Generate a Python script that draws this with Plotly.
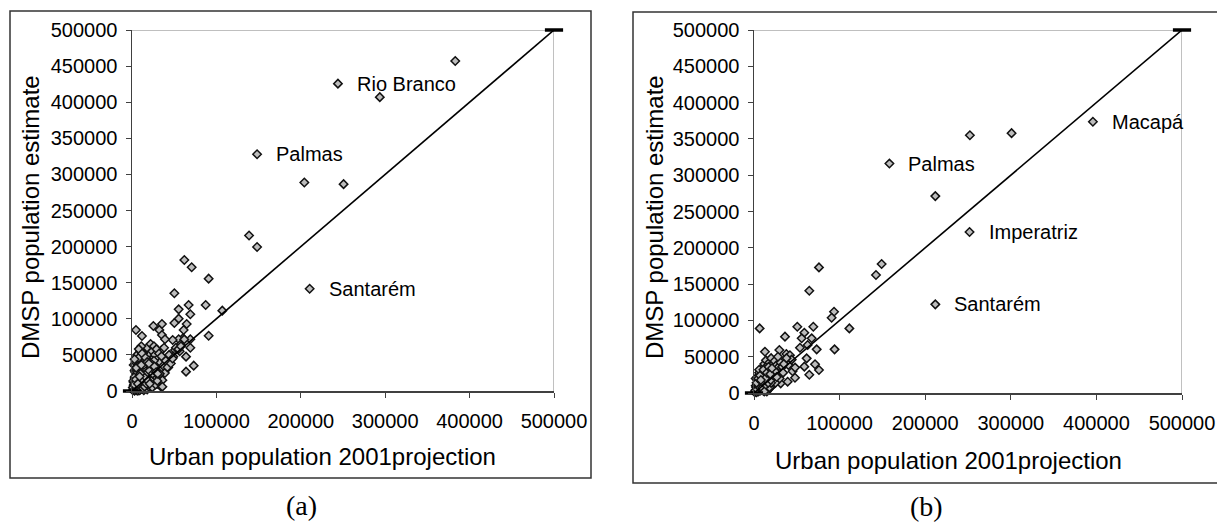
import plotly.graph_objects as go

# ---------------- data (values) ----------------
# Panel (a): Urban population 2001 projection (x) vs DMSP estimate (y)
a_x = [383000, 244000, 293600, 148200, 204200, 250700, 138700, 148200, 210500,
       62000, 70700, 90800, 50200, 107000, 55300, 67100, 87300, 69100, 55300, 50200,
       64800, 61200, 90800, 60400, 69100, 55300, 48200, 69100, 64000, 73100, 64000,
       4700, 11800, 25300, 35500, 32400, 35500, 39100, 50900, 49000, 41100, 34400,
       45000, 35100, 42900, 56500, 61900, 57400,
       1000, 2000, 3000, 2000, 4000, 5000, 3000, 6000, 4000, 5000, 7000, 8000, 8000,
       9000, 10000, 10000, 11000, 12000, 12000, 13000, 13000, 14000, 14000, 15000,
       15000, 16000, 16000, 17000, 17000, 18000, 18000, 19000, 19000, 20000, 20000,
       21000, 21000, 22000, 22000, 23000, 23000, 24000, 25000, 25000, 26000, 26000,
       27000, 27000, 28000, 29000, 29000, 30000, 30000, 31000, 32000, 32000, 33000,
       34000, 35000, 36000, 37000, 38000, 39000, 40000, 42000, 44000, 46000, 48000,
       52000, 55000, 58000, 9000, 7000, 5000, 6000, 10000, 3000, 11000, 8000, 2000,
       1000, 4000, 6000, 12000, 14000, 16000, 3000, 5000, 7000, 9000, 18000, 20000,
       24000, 28000, 13000, 15000, 17000, 19000, 21000, 23000, 11000, 6000, 8000,
       10000, 4000, 2000, 26000, 30000, 33000, 36000,
       1500, 2500, 3500, 4500, 5500, 6500, 7500, 8500, 9500, 10500, 11500, 12500,
       13500, 14500, 15500, 16500, 17500, 18500, 19500, 20500, 22500, 24500, 26500,
       28500, 30500, 4000, 6000, 8000, 10000, 12000, 14000, 16000, 18000, 20000,
       3000, 5000, 7000, 9000, 11000, 13000, 15000, 17000, 19000, 21000, 23000]
a_y = [457000, 425700, 407000, 328000, 288800, 286500, 215400, 199500, 141600,
       181400, 171300, 155600, 135300, 111300, 113100, 119100, 119100, 106200, 100200, 94200,
       92800, 84500, 76600, 72900, 71600, 71600, 70600, 60000, 47600, 35100, 26800,
       84500, 76200, 90000, 92800, 84500, 77600, 71600, 56800, 47600, 35500, 6000,
       42900, 56800, 32700, 55100, 71500, 64500,
       1000, 3000, 2000, 8000, 12000, 5000, 18000, 25000, 30000, 22000, 10000, 4000, 15000,
       20000, 2000, 30000, 12000, 40000, 6000, 25000, 48000, 18000, 35000, 8000,
       55000, 28000, 45000, 12000, 38000, 22000, 60000, 5000, 32000, 15000, 50000,
       28000, 42000, 8000, 65000, 35000, 20000, 55000, 12000, 45000, 30000, 62000,
       18000, 50000, 38000, 25000, 58000, 10000, 44000, 32000, 20000, 52000, 40000,
       28000, 48000, 15000, 35000, 60000, 25000, 42000, 33000, 50000, 38000, 45000,
       60000, 58000, 62000, 40000, 45000, 35000, 50000, 55000, 28000, 62000, 58000, 12000,
       5000, 7000, 2000, 3000, 1000, 4000, 500, 1000, 500, 1000, 2000, 6000,
       5000, 9000, 52000, 20000, 30000, 10000, 24000, 14000, 18000, 8000, 16000,
       22000, 26000, 36000, 42000, 14000, 24000,
       6000, 14000, 9000, 20000, 16000, 32000, 26000, 36000, 12000, 44000, 22000, 30000,
       16000, 26000, 40000, 20000, 30000, 44000, 26000, 36000, 28000, 38000, 24000,
       34000, 26000, 24000, 40000, 34000, 46000, 24000, 52000, 36000, 46000, 40000,
       38000, 44000, 32000, 10000, 20000, 36000, 4000, 6000, 10000, 14000, 10000]

# Panel (b)
b_x = [395900, 252200, 300900, 158200, 211800, 251800, 211800,
       75900, 64600, 142500, 149100, 111400, 93500, 90700, 94100, 75900, 64600,
       6600, 50600, 58800, 36200, 69300, 55700, 67400, 62700, 73200, 53700, 61500,
       58800, 71300, 47900, 37800, 29600, 26500, 12800, 40100, 31200, 39300,
       1000, 2000, 3000, 2000, 4000, 5000, 4000, 6000, 6000, 7000, 8000, 8000, 9000,
       10000, 10000, 11000, 11000, 12000, 12000, 13000, 13000, 14000, 14000, 15000,
       15000, 16000, 16000, 17000, 18000, 18000, 19000, 20000, 20000, 21000, 22000,
       22000, 23000, 24000, 24000, 25000, 26000, 26000, 27000, 28000, 29000, 30000,
       31000, 32000, 33000, 34000, 35000, 3000, 5000, 7000, 9000, 11000, 13000,
       15000, 17000, 19000, 21000, 23000, 25000, 8000, 10000, 12000, 14000, 16000,
       18000, 20000, 6000, 4000, 2000, 28000, 30000, 42000, 45000, 48000, 44000, 38000,
       1500, 2500, 3500, 4500, 5500, 6500, 7500, 8500, 9500, 10500, 11500, 12500,
       13500, 14500, 15500, 16500, 17500, 18500, 19500, 20500, 22500, 24500, 26500,
       3000, 5000, 7000, 9000, 11000, 13000, 15000, 17000, 19000, 21000, 8000, 12000]
b_y = [373700, 355100, 357900, 316000, 271200, 221800, 122100,
       173000, 140900, 162500, 177600, 89000, 112000, 103700, 60100, 31700, 25200,
       89000, 91300, 83100, 77600, 91300, 75300, 75300, 66100, 60100, 62400, 47700,
       36300, 39500, 21100, 53700, 59200, 45400, 56900, 38600, 13300, 15600,
       1000, 4000, 2000, 10000, 6000, 15000, 22000, 8000, 28000, 12000, 4000, 20000, 30000,
       10000, 25000, 18000, 35000, 6000, 40000, 14000, 28000, 22000, 45000, 8000,
       32000, 18000, 38000, 26000, 12000, 42000, 30000, 20000, 48000, 35000, 16000,
       40000, 28000, 22000, 44000, 32000, 18000, 38000, 26000, 35000, 30000, 24000,
       42000, 30000, 36000, 28000, 40000, 1000, 2000, 3000, 5000, 3000, 4000,
       2000, 5000, 8000, 10000, 12000, 14000, 16000, 20000, 24000, 10000, 30000,
       8000, 14000, 32000, 18000, 20000, 50000, 20000, 52000, 30000, 35000, 46000, 48000,
       3000, 8000, 5000, 12000, 9000, 18000, 14000, 22000, 7000, 26000, 16000, 20000,
       11000, 24000, 30000, 14000, 22000, 34000, 18000, 27000, 24000, 30000, 22000,
       14000, 20000, 24000, 16000, 32000, 20000, 28000, 36000, 26000, 34000, 18000, 2000]

line_x = [0, 500000]
line_y = [0, 500000]

x_ticks = [0, 100000, 200000, 300000, 400000, 500000]
y_ticks = [0, 50000, 100000, 150000, 200000, 250000, 300000, 350000, 400000, 450000, 500000]

a_labels = [("Rio Branco", 244000, 425700), ("Palmas", 148200, 328000), ("Santarém", 210500, 141600)]
b_labels = [("Macapá", 395900, 373700), ("Palmas", 158200, 316000),
            ("Imperatriz", 251800, 221800), ("Santarém", 211800, 122100)]

x_title = "Urban population 2001projection"
y_title = "DMSP population estimate"
captions = ["(a)", "(b)"]

# ---------------- layout helpers ----------------
W, H = 1217, 529
def px(x):
    return x / W
def py(y):
    return 1 - y / H

SANS = "Liberation Sans, Arial, sans-serif"
SERIF = "Liberation Serif, Times New Roman, serif"

fig = go.Figure()

marker_style = dict(symbol="diamond", size=6.5, color="#bdbdbd",
                    line=dict(color="#111111", width=1.5))

panels = [
    dict(xs=a_x, ys=a_y, labels=a_labels, xa="x", ya="y",
         left=132, right=554, top=30, bottom=391,
         border=(10, 11, 591, 478), xt=(322, 456), yt=(31, 217), cap=(301, 505)),
    dict(xs=b_x, ys=b_y, labels=b_labels, xa="x2", ya="y2",
         left=754, right=1182, top=30, bottom=393,
         border=(633, 12, 1219, 483), xt=(948, 460), yt=(655, 217), cap=(926, 506)),
]

annotations = []
shapes = []
for i, p in enumerate(panels):
    fig.add_trace(go.Scatter(x=p["xs"], y=p["ys"], mode="markers", marker=marker_style,
                             xaxis=p["xa"], yaxis=p["ya"], showlegend=False, cliponaxis=False,
                             hoverinfo="skip"))
    fig.add_trace(go.Scatter(x=line_x, y=line_y, mode="lines+markers",
                             line=dict(color="black", width=1.6),
                             marker=dict(symbol="line-ew", size=13, line=dict(color="black", width=3.5)),
                             xaxis=p["xa"], yaxis=p["ya"], showlegend=False, cliponaxis=False,
                             hoverinfo="skip"))
    for txt, x, y in p["labels"]:
        annotations.append(dict(text=txt, x=x, y=y, xref=p["xa"], yref=p["ya"],
                                xanchor="left", yanchor="middle", xshift=17, showarrow=False,
                                font=dict(family=SANS, size=20, color="black")))
    annotations.append(dict(text=x_title, x=px(p["xt"][0]), y=py(p["xt"][1]), xref="paper", yref="paper",
                            xanchor="center", yanchor="middle", showarrow=False,
                            font=dict(family=SANS, size=24, color="black")))
    annotations.append(dict(text=y_title, x=px(p["yt"][0]), y=py(p["yt"][1]), xref="paper", yref="paper",
                            xanchor="center", yanchor="middle", showarrow=False, textangle=-90,
                            font=dict(family=SANS, size=24, color="black")))
    annotations.append(dict(text=captions[i], x=px(p["cap"][0]), y=py(p["cap"][1]), xref="paper", yref="paper",
                            xanchor="center", yanchor="middle", showarrow=False,
                            font=dict(family=SERIF, size=28, color="black")))
    x0, y0, x1, y1 = p["border"]
    shapes.append(dict(type="rect", xref="paper", yref="paper", x0=px(x0), y0=py(y0), x1=px(x1), y1=py(y1),
                       line=dict(color="#333333", width=1.5), fillcolor="rgba(0,0,0,0)", layer="below"))
    # plot-area top & right border
    shapes.append(dict(type="line", xref=p["xa"], yref=p["ya"], x0=0, y0=500000, x1=500000, y1=500000,
                       line=dict(color="#808080", width=1), layer="below"))
    shapes.append(dict(type="line", xref=p["xa"], yref=p["ya"], x0=500000, y0=0, x1=500000, y1=500000,
                       line=dict(color="#808080", width=1), layer="below"))

axis_common = dict(showgrid=False, zeroline=False, showline=True, linecolor="#404040", linewidth=1.5,
                   ticks="outside", ticklen=5, tickwidth=1, tickcolor="#404040", automargin=False,
                   tickfont=dict(family=SANS, size=20, color="black"), tickformat="d")

for i, p in enumerate(panels):
    sx = "" if i == 0 else "2"
    fig.update_layout(**{
        "xaxis" + sx: dict(axis_common, domain=[px(p["left"]), px(p["right"])], range=[0, 500000],
                           tickvals=x_ticks, anchor="y" + sx, ticklabelstandoff=6, fixedrange=True),
        "yaxis" + sx: dict(axis_common, domain=[py(p["bottom"]), py(p["top"])], range=[0, 500000],
                           tickvals=y_ticks, anchor="x" + sx, ticklabelstandoff=4, fixedrange=True),
    })

fig.update_layout(width=W, height=H, margin=dict(l=0, r=0, t=0, b=0, autoexpand=False),
                  paper_bgcolor="white", plot_bgcolor="white", hovermode=False,
                  annotations=annotations, shapes=shapes, showlegend=False)

fig.write_html("out.html", config={"displayModeBar": False, "staticPlot": True},
               post_script="document.body.style.margin='0';document.body.style.padding='0';"
                           "document.documentElement.style.overflow='hidden';")
